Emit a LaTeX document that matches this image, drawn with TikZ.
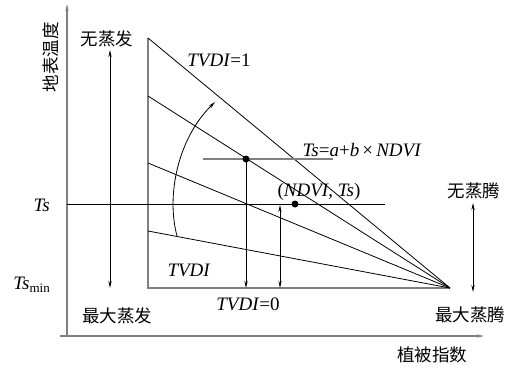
\documentclass[tikz,border=0pt]{standalone}
\usepackage{fontspec}
\setmainfont{Liberation Serif}
\newfontfamily\cjk{Noto Sans CJK SC}
\usetikzlibrary{arrows.meta}
\begin{document}
\begin{tikzpicture}[x=1pt,y=-1pt,
  grayline/.style={draw=black!50, line width=1.8pt},
  blackline/.style={draw=black, line width=0.8pt},
  arr/.style={-{Stealth[length=7pt,width=3.2pt]}},
  darr/.style={{Stealth[length=7pt,width=3.2pt]}-{Stealth[length=7pt,width=3.2pt]}},
  cn/.style={font=\cjk\fontsize{17.5}{17.5}\selectfont, inner sep=0pt},
  lt/.style={font=\fontsize{19}{19}\selectfont, inner sep=0pt},
  dot/.style={circle, fill=black, inner sep=0pt, minimum size=7pt}]
\useasboundingbox (0,0) rectangle (511,368);
% axes
\coordinate (O) at (67,336);
\coordinate (Ytop) at (67,4);
\coordinate (Xs) at (60,336);
\coordinate (Xe) at (484,336);
\draw[grayline, arr] (O) -- (Ytop);
\draw[grayline, arr] (Xs) -- (Xe);
% triangle
\coordinate (A) at (148,38);
\coordinate (B) at (148,288);
\coordinate (C) at (450,288);
\coordinate (L1) at (148,96);
\coordinate (L2) at (148,163);
\coordinate (L3) at (148,231);
\draw[grayline] (A) -- (B) -- (C);
\draw[blackline] (A) -- (C);
\draw[blackline] (L1) -- (C);
\draw[blackline] (L2) -- (C);
\draw[blackline] (L3) -- (C);
% Ts = a + b NDVI line
\coordinate (H1) at (203,159);
\coordinate (H2) at (333,159);
\draw[grayline, line width=1.4pt] (H1) -- (H2);
\node[dot] (P) at (246,159) {};
\coordinate (Pb) at (246,288);
\draw[blackline, arr] (P.center) -- (Pb);
% Ts line
\coordinate (T1) at (67,204);
\coordinate (T2) at (385,204);
\draw[blackline] (T1) -- (T2);
\node[dot] (Q) at (295,204) {};
\coordinate (V1) at (280,205);
\coordinate (V2) at (280,288);
\draw[blackline, darr] (V1) -- (V2);
% left and right double arrows
\coordinate (La) at (110,50);
\coordinate (Lb) at (110,288);
\draw[blackline, darr] (La) -- (Lb);
\coordinate (Ra) at (473,203);
\coordinate (Rb) at (473,292);
\draw[blackline, darr] (Ra) -- (Rb);
% curved arrow
\coordinate (Cs) at (177,236);
\coordinate (Ce) at (215,102);
\draw[blackline, arr] (Cs) .. controls (166,195) and (178,138) .. (Ce);
% labels
\node[cn, rotate=90] (ylab) at (51,57) {地表温度};
\node[cn] (nevap) at (107,39) {无蒸发};
\node[lt] (t1) at (219,60) {\textit{TVDI}=1};
\node[lt] (eq) at (362,150) {\textit{Ts}=\textit{a}+\textit{b}\,×\,\textit{NDVI}};
\node[lt] (pt) at (319,192) {(\textit{NDVI}, \textit{Ts})};
\node[cn] (ntr) at (474,191) {无蒸腾};
\node[lt, anchor=east] (ts) at (50,205) {\textit{Ts}};
\node[lt, anchor=east] (tsmin) at (50,285) {\textit{Ts}{\fontsize{13}{13}\selectfont\raisebox{-0.25em}{min}}};
\node[lt] (tvdi) at (189,270) {\textit{TVDI}};
\node[lt] (t0) at (248,304) {\textit{TVDI}=0};
\node[cn] (mevap) at (117,316) {最大蒸发};
\node[cn] (mtr) at (470,315) {最大蒸腾};
\node[cn] (xlab) at (432,355) {植被指数};
\end{tikzpicture}
\end{document}
